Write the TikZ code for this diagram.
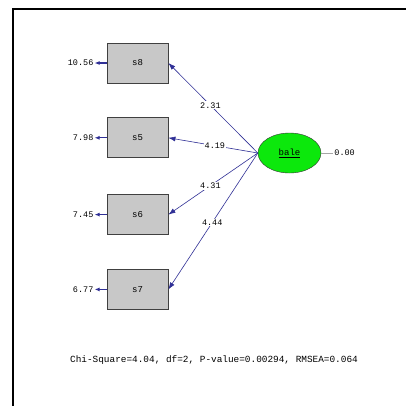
\documentclass[tikz,border=0pt]{standalone}
\usepackage{fontspec}
\setmonofont{Liberation Mono}
\usetikzlibrary{positioning,shapes.geometric,arrows.meta}
\definecolor{latgreen}{RGB}{12,232,12}
\definecolor{pathblue}{RGB}{48,48,150}
\definecolor{boxgray}{RGB}{200,200,200}
\tikzset{
  obs/.style={draw=black!75,fill=boxgray,thick,minimum width=61pt,minimum height=40pt,inner sep=0pt,font=\ttfamily\fontsize{9}{10}\selectfont},
  lat/.style={ellipse,draw=black!80,fill=latgreen,minimum width=63pt,minimum height=40pt,inner sep=0pt,font=\ttfamily\fontsize{9}{10}\selectfont},
  err/.style={inner sep=1pt},
  load/.style={->,>={Latex[length=7pt,width=5pt]},pathblue,line width=0.6pt},
  erarrow/.style={->,>={Latex[length=5pt,width=4pt]},pathblue,line width=1.2pt},
  est/.style={fill=white,inner sep=1pt,text=black}
}
\begin{document}
\begin{tikzpicture}[x=1pt,y=-1pt,font=\ttfamily\fontsize{8.5}{10}\selectfont,node distance=34pt]
  \useasboundingbox (0,0) rectangle (406,405);
  \fill[white] (0,0) rectangle (406,405);
  \draw[line width=1.5pt] (13,410) |- (410,9);

  \node[obs] (s8) at (137.5,63) {s8};
  \node[obs,below=of s8] (s5) {s5};
  \node[obs,below=36pt of s5] (s6) {s6};
  \node[obs,below=of s6] (s7) {s7};
  \node[lat] (bale) at (289.5,153) {\underline{bale}};

  \node[err,left=12pt of s8] (e8) {10.56};
  \node[err,left=12pt of s5] (e5) {7.98};
  \node[err,left=12pt of s6] (e6) {7.45};
  \node[err,left=12pt of s7] (e7) {6.77};
  \node[err,right=12pt of bale] (eb) {0.00};

  \path
  (s8) edge [erarrow] (e8)
  (s5) edge [erarrow] (e5)
  (s6) edge [erarrow] (e6)
  (s7) edge [erarrow] (e7)
  (bale) edge [black!35] (eb);

  \path
  (bale.west) edge [load] node[est,pos=0.53] {2.31} (s8.east)
  (bale.west) edge [load] node[est,pos=0.48] {4.19} (s5.east)
  (bale.west) edge [load] node[est,pos=0.53] {4.31} (s6.east)
  (bale.west) edge [load] node[est,pos=0.51] {4.44} (s7.east);

  \node[font=\ttfamily\fontsize{9.4}{11}\selectfont] (fit) at (214,360) {Chi-Square=4.04, df=2, P-value=0.00294, RMSEA=0.064};
\end{tikzpicture}
\end{document}
